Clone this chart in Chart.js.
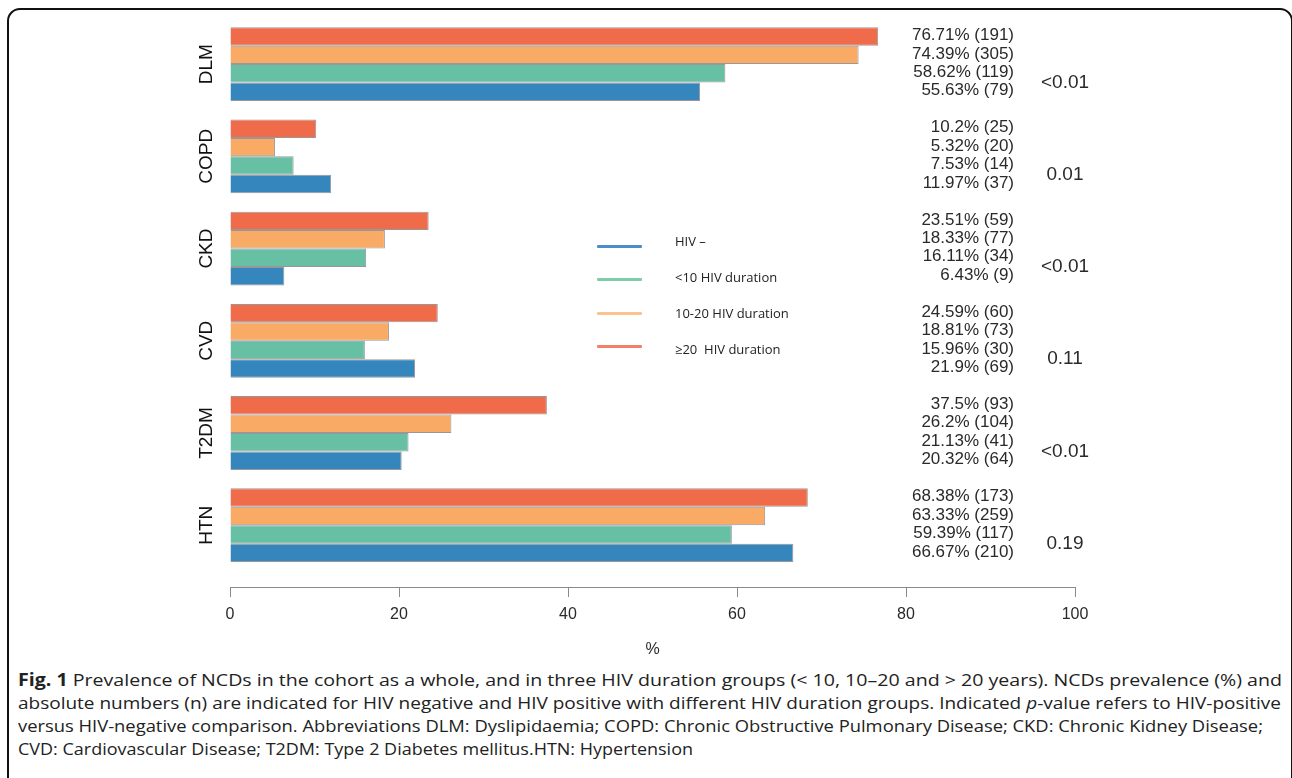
<!DOCTYPE html>
<html>
<head>
<meta charset="utf-8">
<script src="https://cdn.jsdelivr.net/npm/chart.js@4.4.1/dist/chart.umd.min.js"></script>
<style>
  html, body { margin: 0; padding: 0; background: #fff; }
  #page { position: relative; width: 1292px; height: 778px; overflow: hidden; }
  #frame {
    position: absolute; left: 7px; top: 8px; width: 1286px; height: 820px;
    box-sizing: border-box; border: 2px solid #111; border-radius: 13px 13px 0 0;
  }
  #chartBox { position: absolute; left: 0; top: 0; width: 1292px; height: 665px; }
  .lg-line { position: absolute; left: 597px; width: 45px; height: 3px; border-radius: 1px; }
  .lg-text {
    position: absolute; left: 675px; font-family: "Open Sans", sans-serif; font-size: 13px;
    color: #222; white-space: pre; line-height: 16px; transform: translateY(-50%);
  }
  .cap {
    position: absolute; left: 18px; height: 23px; line-height: 23px; white-space: nowrap;
    font-family: "Open Sans", sans-serif; font-size: 17px; color: #222; transform-origin: 0 50%;
  }
</style>
</head>
<body>
<div id="page">
  <div id="frame"></div>
  <div id="chartBox"><canvas id="ncdChart" width="1292" height="665"></canvas></div>

  <div class="lg-line" style="top:245px;background:#4a8dca"></div>
  <div class="lg-line" style="top:278px;background:#80cba9"></div>
  <div class="lg-line" style="top:312px;background:#fcc48d"></div>
  <div class="lg-line" style="top:345px;background:#f08367"></div>
  <div class="lg-text" style="top:241px">HIV –</div>
  <div class="lg-text" style="top:277px">&lt;10 HIV duration</div>
  <div class="lg-text" style="top:313px">10-20 HIV duration</div>
  <div class="lg-text" style="top:349px">≥20  HIV duration</div>

  <div class="cap" style="top:668px"><span><b>Fig. 1</b> Prevalence of NCDs in the cohort as a whole, and in three HIV duration groups (&lt; 10, 10–20 and &gt; 20 years). NCDs prevalence (%) and</span></div>
  <div class="cap" style="top:691px"><span>absolute numbers (n) are indicated for HIV negative and HIV positive with different HIV duration groups. Indicated <i>p</i>-value refers to HIV-positive</span></div>
  <div class="cap" style="top:714px"><span>versus HIV-negative comparison. Abbreviations DLM: Dyslipidaemia; COPD: Chronic Obstructive Pulmonary Disease; CKD: Chronic Kidney Disease;</span></div>
  <div class="cap" style="top:737px"><span>CVD: Cardiovascular Disease; T2DM: Type 2 Diabetes mellitus.HTN: Hypertension</span></div>
</div>

<script>
// --- data ---
const categories = ['DLM', 'COPD', 'CKD', 'CVD', 'T2DM', 'HTN'];

// prevalence (%) per group
const hivNeg   = [55.63, 11.97, 6.43, 21.9, 20.32, 66.67];
const under10  = [58.62, 7.53, 16.11, 15.96, 21.13, 59.39];
const from10to20 = [74.39, 5.32, 18.33, 18.81, 26.2, 63.33];
const over20   = [76.71, 10.2, 23.51, 24.59, 37.5, 68.38];

// absolute numbers (n)
const nHivNeg  = [79, 37, 9, 69, 64, 210];
const nUnder10 = [119, 14, 34, 30, 41, 117];
const nFrom10to20 = [305, 20, 77, 73, 104, 259];
const nOver20  = [191, 25, 59, 60, 93, 173];

const pValues = ['<0.01', '0.01', '<0.01', '0.11', '<0.01', '0.19'];
const xTicks = [0, 20, 40, 60, 80, 100];

// top to bottom inside each group
const series = [
  { label: '≥20 HIV duration',   values: over20,     counts: nOver20,     color: '#f06b4a' },
  { label: '10-20 HIV duration', values: from10to20, counts: nFrom10to20, color: '#f9ab66' },
  { label: '<10 HIV duration',   values: under10,    counts: nUnder10,    color: '#68c0a4' },
  { label: 'HIV –',              values: hivNeg,     counts: nHivNeg,     color: '#3486bd' }
];

const TEXT = '#2a2a2a';
const FONT = '"Liberation Sans", Arial, sans-serif';

// right-hand annotations: "xx% (n)" per bar and the p-value per group
const sideLabels = {
  id: 'sideLabels',
  afterDatasetsDraw(chart) {
    const ctx = chart.ctx;
    ctx.save();
    ctx.fillStyle = TEXT;
    ctx.textBaseline = 'middle';
    ctx.font = '17px ' + FONT;
    ctx.textAlign = 'right';
    series.forEach((s, di) => {
      const meta = chart.getDatasetMeta(di);
      meta.data.forEach((bar, i) => {
        ctx.fillText(s.values[i] + '% (' + s.counts[i] + ')', 1014, bar.y - 1);
      });
    });
    ctx.font = '19px ' + FONT;
    ctx.textAlign = 'center';
    const m3 = chart.getDatasetMeta(2), m4 = chart.getDatasetMeta(3);
    pValues.forEach((p, i) => {
      ctx.fillText(p, 1065, (m3.data[i].y + m4.data[i].y) / 2);
    });
    ctx.restore();
  }
};

new Chart(document.getElementById('ncdChart'), {
  type: 'bar',
  data: {
    datasets: series.map(s => ({
      label: s.label,
      data: s.values.map((v, i) => ({ x: v, y: i })),
      backgroundColor: s.color,
      borderColor: 'rgba(50,50,50,0.5)',
      borderWidth: 1,
      categoryPercentage: 0.8,
      barPercentage: 1.0
    }))
  },
  options: {
    indexAxis: 'y',
    responsive: false,
    animation: false,
    devicePixelRatio: 1,
    layout: { padding: { top: 18, right: 217, left: 0, bottom: 0 } },
    plugins: { legend: { display: false }, tooltip: { enabled: false } },
    scales: {
      x: {
        type: 'linear',
        min: 0, max: 100,
        afterBuildTicks: s => { s.ticks = xTicks.map(v => ({ value: v })); },
        afterFit: s => { s.height = 78; },
        border: { display: true, color: '#8a8a8a', width: 1 },
        grid: { display: true, drawOnChartArea: false, drawTicks: true, tickLength: 10, color: '#8a8a8a' },
        ticks: { color: TEXT, font: { family: FONT, size: 16 }, padding: 8 },
        title: { display: true, text: '%', color: TEXT, font: { family: FONT, size: 16 }, padding: { top: 0, bottom: 6 } }
      },
      y: {
        type: 'linear',
        reverse: true,
        offset: false,
        min: -0.5, max: 5.67,
        afterBuildTicks: s => { s.ticks = categories.map((c, i) => ({ value: i })); },
        afterFit: s => { s.width = 230; },
        border: { display: false },
        grid: { display: false },
        ticks: {
          minRotation: 90, maxRotation: 90,
          crossAlign: 'center',
          padding: -12,
          color: '#111',
          font: { family: FONT, size: 19 },
          callback: v => categories[v] ?? ''
        }
      }
    }
  },
  plugins: [sideLabels]
});

// squeeze each caption line to the width it has in the figure
const capWidths = [1264, 1263, 1245, 675];
document.fonts.ready.then(() => {
  document.querySelectorAll('.cap').forEach((el, i) => {
    const w = el.firstElementChild.getBoundingClientRect().width;
    el.style.transform = 'scaleX(' + (capWidths[i] / w) + ')';
  });
});
</script>
</body>
</html>
